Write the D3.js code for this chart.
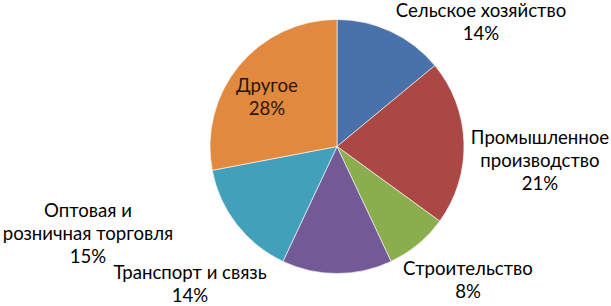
<!DOCTYPE html>
<html><head><meta charset="utf-8">
<script src="https://cdn.jsdelivr.net/npm/d3@7"></script>
<style>html,body{margin:0;padding:0;background:#fff;}svg{display:block;}</style>
</head><body>
<svg id="chart" width="611" height="306"></svg>
<script>
const categories = ["Сельское хозяйство", "Промышленное производство", "Строительство", "Транспорт и связь", "Оптовая и розничная торговля", "Другое"];
const values = [14, 21, 8, 14, 15, 28];
const colors = ["#4a72aa", "#ab4745", "#8aae4e", "#735a97", "#42a0ba", "#e0893f"];
const labelLines = [
  ["Сельское хозяйство"],
  ["Промышленное", "производство"],
  ["Строительство"],
  ["Транспорт и связь"],
  ["Оптовая и", "розничная торговля"],
  ["Другое"]
];

const svg = d3.select("#chart");
const cx = 337, cy = 146.5, r = 127;
const pie = d3.pie().sort(null).value(d => d)(values);
const arc = d3.arc().innerRadius(0).outerRadius(r);
const g = svg.append("g").attr("transform", `translate(${cx},${cy})`);
g.selectAll("path").data(pie).enter().append("path")
  .attr("d", arc).attr("fill", (d, i) => colors[i])
  .attr("stroke", "#ffffff").attr("stroke-width", 0.6);

// label anchor (center x, first baseline y), relative to pie center
const labelPos = [
  [144, -129.5], [203, -3], [131, 128], [-147, 132.5], [-249, 70], [-70, -55]
];
const lh = 23.3;
const total = d3.sum(values);
labelLines.forEach((lines, i) => {
  const all = lines.concat([Math.round(values[i] / total * 100) + "%"]);
  const t = g.append("text")
    .attr("text-anchor", "middle")
    .attr("font-family", "Lato, 'Open Sans', sans-serif")
    .attr("font-size", 18.6)
    .attr("fill", i === 5 ? "#2a1608" : "#000");
  all.forEach((s, k) => {
    t.append("tspan").attr("x", labelPos[i][0]).attr("y", labelPos[i][1] + k * lh).text(s);
  });
});
</script>
</body></html>
